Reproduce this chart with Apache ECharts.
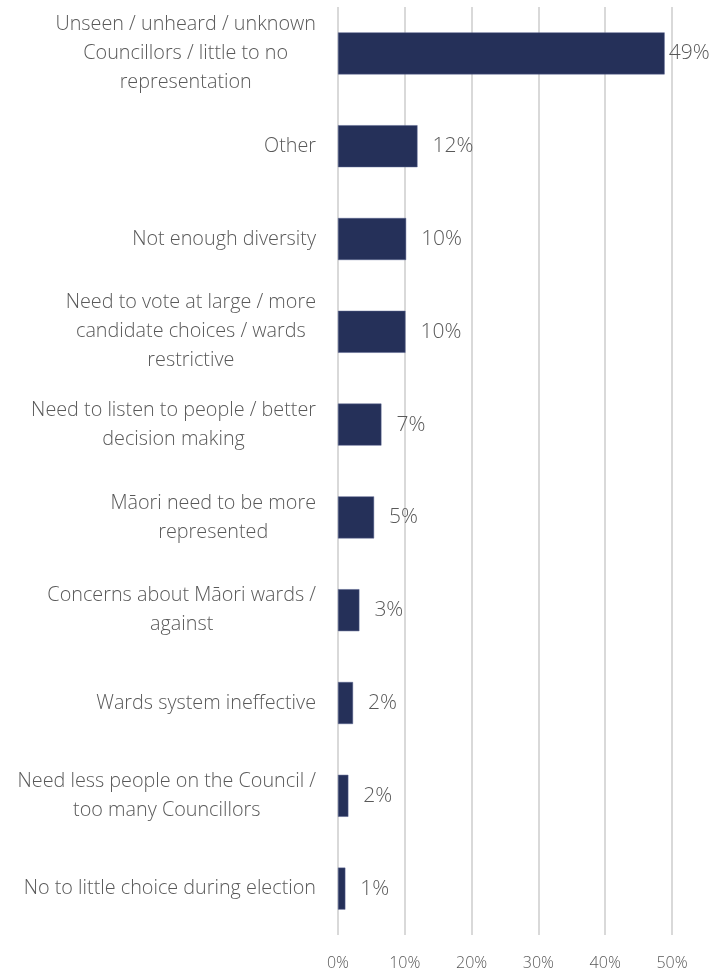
<!DOCTYPE html>
<html>
<head>
<meta charset="utf-8">
<script src="https://cdn.jsdelivr.net/npm/echarts@6/dist/echarts.min.js"></script>
<style>
  html, body { margin: 0; padding: 0; background: #fff; }
  #chart { width: 716px; height: 974px; }
</style>
</head>
<body>
<div id="chart"></div>
<script>
// categories top to bottom
const categories = [
  'Unseen / unheard / unknown\nCouncillors / little to no\nrepresentation',
  'Other',
  'Not enough diversity',
  'Need to vote at large / more\ncandidate choices / wards\nrestrictive',
  'Need to listen to people / better\ndecision making',
  'Māori need to be more\nrepresented',
  'Concerns about Māori wards /\nagainst',
  'Wards system ineffective',
  'Need less people on the Council /\ntoo many Councillors',
  'No to little choice during election'
]
// bar lengths (percent)
const values = [48.9, 11.9, 10.2, 10.1, 6.5, 5.4, 3.2, 2.25, 1.55, 1.1]
// printed labels
const labels = ['49%', '12%', '10%', '10%', '7%', '5%', '3%', '2%', '2%', '1%']
const xTicks = [0, 10, 20, 30, 40, 50]

const font = '"Open Sans", "Noto Sans", sans-serif'
const chart = echarts.init(document.getElementById('chart'))

chart.setOption({
  animation: false,
  grid: {
    left: 338,
    right: 44,
    top: 7,
    bottom: 39
  },
  xAxis: {
    type: 'value',
    min: 0,
    max: 50,
    interval: 10,
    axisLine: { show: false },
    axisTick: { show: false },
    splitLine: {
      show: true,
      lineStyle: { color: '#d9d9d9', width: 2 }
    },
    axisLabel: {
      margin: 20,
      color: '#595959',
      fontFamily: font,
      fontWeight: 300,
      fontSize: 16,
      formatter: v => (xTicks.includes(v) ? v + '%' : '')
    }
  },
  yAxis: {
    type: 'category',
    inverse: true,
    data: categories,
    axisLine: { show: false },
    axisTick: { show: false },
    axisLabel: {
      margin: 22,
      align: 'right',
      lineHeight: 29,
      formatter: v => v.split('\n').map(l => '{c|' + l + '}').join('\n'),
      rich: {
        c: {
          align: 'center',
          color: '#595959',
          fontFamily: font,
          fontWeight: 300,
          fontSize: 19.8,
          lineHeight: 29
        }
      }
    }
  },
  series: [
    {
      type: 'bar',
      barWidth: 42,
      data: values.map((v, i) => ({
        value: v,
        label: { distance: i === 0 ? 4 : 15 }
      })),
      itemStyle: {
        color: '#253059',
        borderColor: '#5a6590',
        borderWidth: 0.5
      },
      label: {
        show: true,
        position: 'right',
        color: '#595959',
        fontFamily: font,
        fontWeight: 300,
        fontSize: 21,
        formatter: p => labels[p.dataIndex]
      }
    }
  ]
})
</script>
</body>
</html>
